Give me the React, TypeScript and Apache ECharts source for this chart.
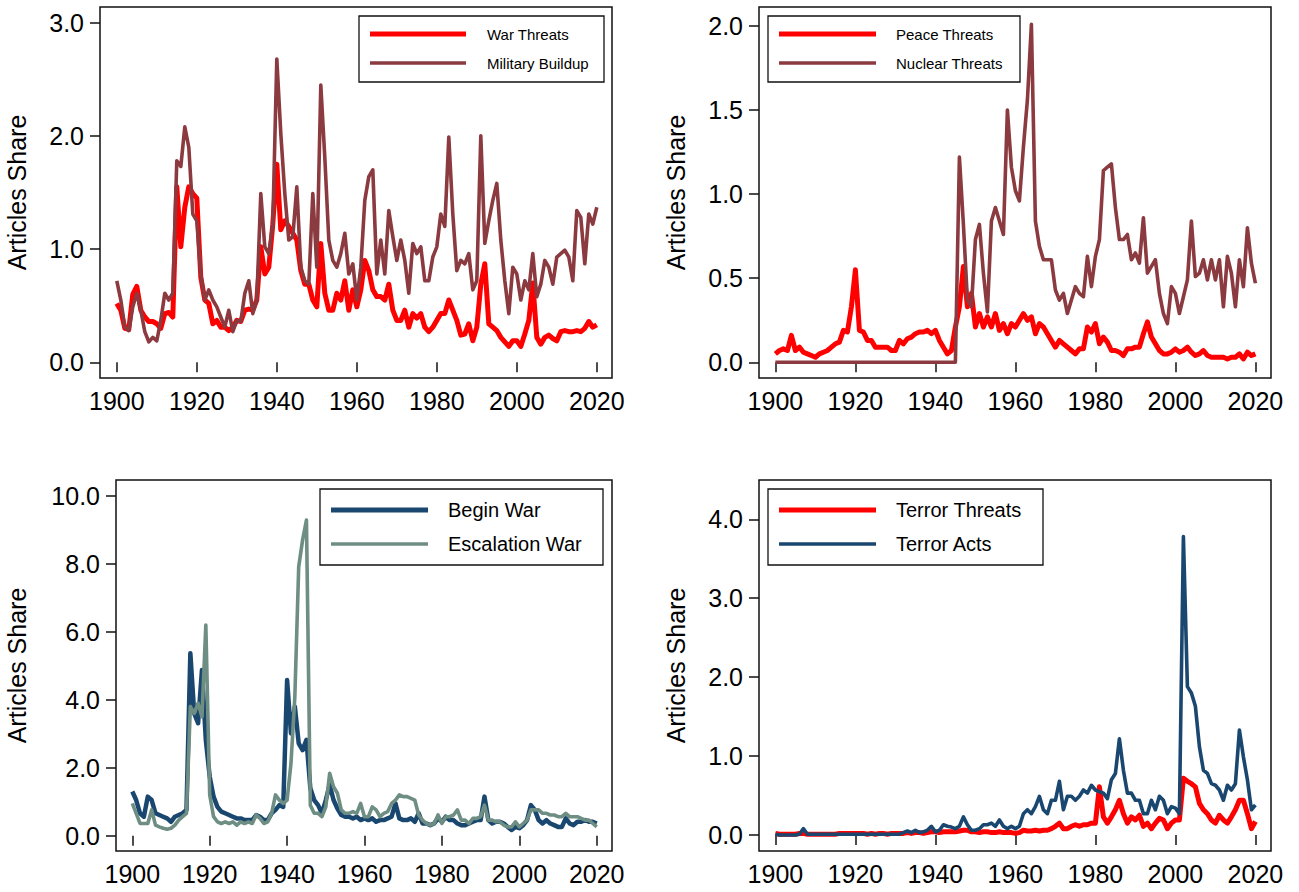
import React, { useEffect, useRef } from "react";
import * as echarts from "echarts";

const YEARS = [
  1900, 1901, 1902, 1903, 1904, 1905, 1906, 1907, 1908, 1909,
  1910, 1911, 1912, 1913, 1914, 1915, 1916, 1917, 1918, 1919,
  1920, 1921, 1922, 1923, 1924, 1925, 1926, 1927, 1928, 1929,
  1930, 1931, 1932, 1933, 1934, 1935, 1936, 1937, 1938, 1939,
  1940, 1941, 1942, 1943, 1944, 1945, 1946, 1947, 1948, 1949,
  1950, 1951, 1952, 1953, 1954, 1955, 1956, 1957, 1958, 1959,
  1960, 1961, 1962, 1963, 1964, 1965, 1966, 1967, 1968, 1969,
  1970, 1971, 1972, 1973, 1974, 1975, 1976, 1977, 1978, 1979,
  1980, 1981, 1982, 1983, 1984, 1985, 1986, 1987, 1988, 1989,
  1990, 1991, 1992, 1993, 1994, 1995, 1996, 1997, 1998, 1999,
  2000, 2001, 2002, 2003, 2004, 2005, 2006, 2007, 2008, 2009,
  2010, 2011, 2012, 2013, 2014, 2015, 2016, 2017, 2018, 2019,
  2020,
];

const X_TICKS = [1900, 1920, 1940, 1960, 1980, 2000, 2020];

const warThreats = [
  0.52, 0.46, 0.30, 0.29, 0.60, 0.67, 0.46, 0.40, 0.36, 0.36,
  0.34, 0.30, 0.43, 0.44, 0.40, 1.55, 1.02, 1.37, 1.55, 1.49,
  1.45, 0.75, 0.55, 0.52, 0.34, 0.37, 0.31, 0.31, 0.28, 0.31,
  0.37, 0.36, 0.46, 0.47, 0.46, 0.55, 1.02, 0.78, 0.84, 1.22,
  1.75, 1.17, 1.25, 1.20, 1.14, 1.08, 0.81, 0.69, 0.69, 0.55,
  0.49, 1.05, 0.61, 0.46, 0.46, 0.61, 0.55, 0.72, 0.46, 0.64,
  0.49, 0.64, 0.90, 0.81, 0.64, 0.58, 0.58, 0.55, 0.69, 0.46,
  0.37, 0.37, 0.46, 0.31, 0.43, 0.39, 0.43, 0.31, 0.27, 0.31,
  0.37, 0.43, 0.43, 0.55, 0.46, 0.37, 0.24, 0.25, 0.34, 0.19,
  0.31, 0.69, 0.87, 0.34, 0.31, 0.28, 0.22, 0.18, 0.14, 0.19,
  0.19, 0.14, 0.25, 0.37, 0.70, 0.22, 0.16, 0.22, 0.24, 0.21,
  0.19, 0.27, 0.28, 0.27, 0.27, 0.28, 0.27, 0.30, 0.36, 0.31,
  0.33,
];

const militaryBuildup = [
  0.72, 0.55, 0.31, 0.28, 0.49, 0.61, 0.46, 0.27, 0.18, 0.22,
  0.19, 0.37, 0.61, 0.55, 0.61, 1.78, 1.73, 2.08, 1.90, 1.31,
  1.25, 0.78, 0.55, 0.64, 0.55, 0.49, 0.40, 0.31, 0.46, 0.27,
  0.37, 0.36, 0.61, 0.72, 0.43, 0.55, 1.49, 1.02, 0.96, 1.22,
  2.68, 2.02, 1.49, 1.08, 1.11, 1.55, 0.84, 0.72, 0.69, 1.49,
  0.84, 2.45, 1.81, 1.08, 0.90, 0.84, 0.96, 1.14, 0.78, 0.87,
  0.55, 0.84, 1.43, 1.64, 1.70, 0.78, 1.08, 0.78, 1.34, 1.11,
  0.90, 1.08, 0.90, 0.61, 1.05, 0.96, 1.02, 0.72, 0.72, 0.93,
  1.02, 1.31, 1.20, 1.99, 1.31, 0.81, 0.90, 0.87, 0.96, 0.64,
  0.72, 2.00, 1.05, 1.25, 1.43, 1.58, 1.08, 0.72, 0.43, 0.84,
  0.78, 0.55, 0.72, 0.64, 0.96, 0.58, 0.69, 0.90, 0.84, 0.69,
  0.93, 0.96, 0.99, 0.93, 0.72, 1.34, 1.28, 0.87, 1.31, 1.22,
  1.37,
];

const peaceThreats = [
  0.05, 0.07, 0.08, 0.07, 0.16, 0.07, 0.09, 0.06, 0.05, 0.04,
  0.03, 0.05, 0.06, 0.07, 0.09, 0.11, 0.12, 0.19, 0.18, 0.33,
  0.55, 0.19, 0.18, 0.13, 0.13, 0.09, 0.09, 0.09, 0.09, 0.07,
  0.07, 0.13, 0.11, 0.14, 0.15, 0.17, 0.18, 0.18, 0.19, 0.17,
  0.19, 0.13, 0.09, 0.05, 0.07, 0.21, 0.33, 0.57, 0.33, 0.41,
  0.21, 0.29, 0.21, 0.27, 0.21, 0.29, 0.19, 0.23, 0.17, 0.23,
  0.21, 0.25, 0.29, 0.25, 0.27, 0.17, 0.23, 0.21, 0.17, 0.13,
  0.09, 0.13, 0.11, 0.09, 0.07, 0.05, 0.08, 0.08, 0.21, 0.18,
  0.23, 0.11, 0.15, 0.12, 0.07, 0.07, 0.06, 0.04, 0.08, 0.08,
  0.09, 0.09, 0.17, 0.24, 0.15, 0.11, 0.07, 0.05, 0.05, 0.06,
  0.08, 0.06, 0.07, 0.09, 0.06, 0.04, 0.05, 0.07, 0.04, 0.03,
  0.03, 0.03, 0.03, 0.02, 0.03, 0.03, 0.05, 0.02, 0.06, 0.04,
  0.05,
];

const nuclearThreats = [
  0, 0, 0, 0, 0, 0, 0, 0, 0, 0,
  0, 0, 0, 0, 0, 0, 0, 0, 0, 0,
  0, 0, 0, 0, 0, 0, 0, 0, 0, 0,
  0, 0, 0, 0, 0, 0, 0, 0, 0, 0,
  0, 0, 0, 0, 0, 0, 1.22, 0.82, 0.37, 0.33,
  0.73, 0.82, 0.53, 0.30, 0.84, 0.92, 0.84, 0.76, 1.50, 1.16,
  1.02, 0.96, 1.28, 1.56, 2.01, 0.84, 0.69, 0.61, 0.61, 0.61,
  0.43, 0.37, 0.41, 0.29, 0.37, 0.45, 0.41, 0.39, 0.63, 0.45,
  0.63, 0.73, 1.14, 1.16, 1.18, 0.92, 0.73, 0.73, 0.76, 0.61,
  0.65, 0.59, 0.86, 0.53, 0.57, 0.61, 0.41, 0.29, 0.23, 0.45,
  0.41, 0.29, 0.39, 0.49, 0.84, 0.51, 0.53, 0.61, 0.49, 0.61,
  0.49, 0.61, 0.33, 0.63, 0.53, 0.33, 0.61, 0.45, 0.80, 0.59,
  0.47,
];

const beginWar = [
  1.30, 1.05, 0.66, 0.56, 1.15, 1.05, 0.66, 0.61, 0.56, 0.51,
  0.41, 0.56, 0.61, 0.66, 0.76, 5.37, 3.60, 3.31, 4.88, 2.82,
  1.74, 1.15, 0.85, 0.71, 0.66, 0.61, 0.56, 0.51, 0.51, 0.46,
  0.46, 0.46, 0.61, 0.56, 0.46, 0.46, 0.66, 0.76, 0.90, 0.85,
  4.58, 3.01, 3.80, 2.72, 2.52, 2.82, 1.40, 1.05, 0.90, 0.66,
  1.05, 1.50, 1.05, 0.80, 0.61, 0.56, 0.56, 0.51, 0.56, 0.46,
  0.51, 0.46, 0.51, 0.41, 0.46, 0.46, 0.51, 0.56, 0.95, 0.51,
  0.46, 0.46, 0.51, 0.41, 0.66, 0.36, 0.36, 0.31, 0.36, 0.51,
  0.41, 0.56, 0.46, 0.46, 0.36, 0.31, 0.31, 0.36, 0.41, 0.46,
  0.46, 1.15, 0.46, 0.36, 0.41, 0.41, 0.36, 0.26, 0.17, 0.26,
  0.22, 0.31, 0.46, 0.90, 0.76, 0.46, 0.36, 0.46, 0.36, 0.31,
  0.26, 0.26, 0.51, 0.36, 0.31, 0.41, 0.41, 0.46, 0.41, 0.41,
  0.36,
];

const escalationWar = [
  0.95, 0.66, 0.36, 0.36, 0.36, 0.76, 0.31, 0.26, 0.22, 0.19,
  0.22, 0.31, 0.46, 0.56, 0.66, 3.80, 3.60, 3.90, 3.50, 6.20,
  1.20, 0.56, 0.41, 0.36, 0.41, 0.36, 0.41, 0.31, 0.41, 0.36,
  0.41, 0.36, 0.61, 0.51, 0.36, 0.41, 0.66, 1.20, 1.05, 0.95,
  1.05, 2.13, 4.09, 7.92, 8.70, 9.29, 0.90, 0.66, 0.66, 0.56,
  0.85, 1.84, 1.44, 1.25, 0.76, 0.66, 0.66, 0.71, 0.66, 0.95,
  0.56, 0.56, 0.85, 0.76, 0.56, 0.66, 0.71, 0.95, 1.05, 1.20,
  1.15, 1.15, 1.10, 1.05, 0.61, 0.46, 0.36, 0.31, 0.36, 0.61,
  0.36, 0.56, 0.56, 0.61, 0.76, 0.46, 0.46, 0.36, 0.51, 0.51,
  0.56, 0.90, 0.46, 0.46, 0.41, 0.41, 0.31, 0.26, 0.26, 0.41,
  0.26, 0.36, 0.46, 0.76, 0.76, 0.76, 0.66, 0.66, 0.61, 0.61,
  0.56, 0.56, 0.66, 0.56, 0.56, 0.56, 0.51, 0.46, 0.46, 0.36,
  0.26,
];

const terrorThreats = [
  0.02, 0.01, 0.01, 0.01, 0.01, 0.01, 0.02, 0.02, 0.01, 0.01,
  0.01, 0.01, 0.01, 0.01, 0.01, 0.01, 0.02, 0.02, 0.02, 0.02,
  0.02, 0.02, 0.02, 0.01, 0.02, 0.01, 0.02, 0.02, 0.01, 0.02,
  0.02, 0.02, 0.02, 0.03, 0.02, 0.03, 0.03, 0.02, 0.03, 0.04,
  0.04, 0.03, 0.04, 0.04, 0.04, 0.04, 0.05, 0.06, 0.06, 0.04,
  0.04, 0.03, 0.04, 0.04, 0.03, 0.03, 0.04, 0.03, 0.03, 0.03,
  0.02, 0.03, 0.06, 0.05, 0.05, 0.06, 0.05, 0.06, 0.06, 0.08,
  0.11, 0.15, 0.08, 0.08, 0.11, 0.13, 0.11, 0.13, 0.13, 0.15,
  0.15, 0.61, 0.23, 0.15, 0.23, 0.32, 0.44, 0.27, 0.15, 0.23,
  0.19, 0.25, 0.11, 0.15, 0.08, 0.15, 0.21, 0.19, 0.08, 0.15,
  0.19, 0.19, 0.72, 0.68, 0.65, 0.61, 0.40, 0.32, 0.27, 0.19,
  0.15, 0.25, 0.19, 0.15, 0.23, 0.32, 0.44, 0.44, 0.27, 0.08,
  0.17,
];

const terrorActs = [
  0.01, 0.00, 0.00, 0.00, 0.00, 0.00, 0.01, 0.08, 0.01, 0.01,
  0.01, 0.01, 0.01, 0.01, 0.01, 0.01, 0.01, 0.01, 0.01, 0.01,
  0.01, 0.01, 0.01, 0.01, 0.01, 0.01, 0.01, 0.01, 0.01, 0.01,
  0.01, 0.01, 0.03, 0.05, 0.03, 0.06, 0.03, 0.04, 0.06, 0.11,
  0.04, 0.06, 0.13, 0.11, 0.10, 0.08, 0.11, 0.23, 0.13, 0.06,
  0.06, 0.08, 0.13, 0.13, 0.15, 0.11, 0.19, 0.11, 0.08, 0.11,
  0.08, 0.11, 0.27, 0.32, 0.27, 0.36, 0.49, 0.32, 0.27, 0.44,
  0.44, 0.68, 0.32, 0.49, 0.49, 0.44, 0.49, 0.57, 0.53, 0.63,
  0.57, 0.55, 0.53, 0.46, 0.70, 0.78, 1.22, 0.82, 0.53, 0.53,
  0.44, 0.44, 0.27, 0.27, 0.44, 0.32, 0.49, 0.44, 0.27, 0.36,
  0.34, 0.27, 3.78, 1.88, 1.80, 1.63, 1.12, 0.82, 0.78, 0.65,
  0.63, 0.57, 0.44, 0.63, 0.57, 0.65, 1.33, 0.99, 0.70, 0.32,
  0.38,
];

const RED = "#ff0000";
const BROWN = "#8b3a3f";
const NAVY = "#1a476f";
const SAGE = "#6e8e84";
const FONT = "'Liberation Sans', Arial, Helvetica, sans-serif";
const INK = "#111111";

type Panel = {
  grid: { left: number; top: number; width: number; height: number };
  xMin: number;
  xMax: number;
  yMin: number;
  yMax: number;
  yTicks: number[];
  nameGap: number;
  series: { name: string; values: number[]; color: string; width: number }[];
  legend: {
    x: number;
    y: number;
    w: number;
    h: number;
    lineX1: number;
    lineX2: number;
    textX: number;
    rows: number[];
    fontSize: number;
    widths: number[];
  };
};

const PANELS: Panel[] = [
  {
    grid: { left: 100, top: 7, width: 512, height: 371 },
    xMin: 1895.8,
    xMax: 2023.8,
    yMin: -0.139,
    yMax: 3.139,
    yTicks: [0, 1, 2, 3],
    nameGap: 71,
    series: [
      { name: "War Threats", values: warThreats, color: RED, width: 5 },
      { name: "Military Buildup", values: militaryBuildup, color: BROWN, width: 3.6 },
    ],
    legend: { x: 359, y: 16, w: 245, h: 66, lineX1: 370, lineX2: 466, textX: 487, rows: [34, 63], fontSize: 15, widths: [5, 3.5] },
  },
  {
    grid: { left: 759, top: 7, width: 512, height: 371 },
    xMin: 1895.9,
    xMax: 2023.9,
    yMin: -0.0934,
    yMax: 2.113,
    yTicks: [0, 0.5, 1, 1.5, 2],
    nameGap: 71,
    series: [
      { name: "Peace Threats", values: peaceThreats, color: RED, width: 5 },
      { name: "Nuclear Threats", values: nuclearThreats, color: BROWN, width: 3.6 },
    ],
    legend: { x: 768, y: 16, w: 252, h: 66, lineX1: 779, lineX2: 876, textX: 896, rows: [34, 63], fontSize: 15, widths: [5, 3.5] },
  },
  {
    grid: { left: 116, top: 480, width: 496, height: 371 },
    xMin: 1895.79,
    xMax: 2023.95,
    yMin: -0.45,
    yMax: 10.47,
    yTicks: [0, 2, 4, 6, 8, 10],
    nameGap: 87,
    series: [
      { name: "Begin War", values: beginWar, color: NAVY, width: 4.5 },
      { name: "Escalation War", values: escalationWar, color: SAGE, width: 3.6 },
    ],
    legend: { x: 320, y: 489, w: 283, h: 76, lineX1: 331, lineX2: 428, textX: 448, rows: [510, 544], fontSize: 20, widths: [5, 3.5] },
  },
  {
    grid: { left: 759, top: 480, width: 512, height: 371 },
    xMin: 1895.9,
    xMax: 2023.9,
    yMin: -0.203,
    yMax: 4.498,
    yTicks: [0, 1, 2, 3, 4],
    nameGap: 71,
    series: [
      { name: "Terror Threats", values: terrorThreats, color: RED, width: 5 },
      { name: "Terror Acts", values: terrorActs, color: NAVY, width: 3.6 },
    ],
    legend: { x: 768, y: 489, w: 275, h: 76, lineX1: 779, lineX2: 876, textX: 896, rows: [510, 544], fontSize: 20, widths: [5, 3.5] },
  },
];

function buildOption() {
  const grid: any[] = [];
  const xAxis: any[] = [];
  const yAxis: any[] = [];
  const series: any[] = [];
  const graphic: any[] = [];

  PANELS.forEach((p, i) => {
    grid.push({
      ...p.grid,
      show: true,
      borderColor: INK,
      borderWidth: 1.5,
      backgroundColor: "transparent",
      containLabel: false,
    });
    xAxis.push({
      type: "value",
      gridIndex: i,
      min: p.xMin,
      max: p.xMax,
      axisLine: { show: false },
      splitLine: { show: false },
      axisTick: {
        show: true,
        inside: false,
        length: 10,
        customValues: X_TICKS,
        lineStyle: { color: INK, width: 1.5 },
      },
      axisLabel: {
        customValues: X_TICKS,
        fontSize: 25,
        fontFamily: FONT,
        color: "#000",
        margin: 10,
        formatter: (v: number) => String(Math.round(v)),
      },
    });
    yAxis.push({
      type: "value",
      gridIndex: i,
      min: p.yMin,
      max: p.yMax,
      name: "Articles Share",
      nameLocation: "middle",
      nameGap: p.nameGap,
      nameTextStyle: { fontSize: 25, fontFamily: FONT, color: "#000" },
      axisLine: { show: false },
      splitLine: { show: false },
      axisTick: {
        show: true,
        inside: false,
        length: 10,
        customValues: p.yTicks,
        lineStyle: { color: INK, width: 1.5 },
      },
      axisLabel: {
        customValues: p.yTicks,
        fontSize: 25,
        fontFamily: FONT,
        color: "#000",
        margin: 16,
        formatter: (v: number) => v.toFixed(1),
      },
    });
    p.series.forEach((s) => {
      series.push({
        type: "line",
        name: s.name,
        xAxisIndex: i,
        yAxisIndex: i,
        data: YEARS.map((yr, k) => [yr, s.values[k]]),
        showSymbol: false,
        symbol: "none",
        smooth: false,
        lineStyle: { color: s.color, width: s.width, join: "round" },
        itemStyle: { color: s.color },
      });
    });

    const L = p.legend;
    graphic.push({
      type: "rect",
      z: 100,
      shape: { x: L.x, y: L.y, width: L.w, height: L.h },
      style: { fill: "#fff", stroke: INK, lineWidth: 1.3 },
    });
    p.series.forEach((s, k) => {
      graphic.push({
        type: "line",
        z: 101,
        shape: { x1: L.lineX1, y1: L.rows[k], x2: L.lineX2, y2: L.rows[k] },
        style: { stroke: s.color, lineWidth: L.widths[k] },
      });
      graphic.push({
        type: "text",
        z: 101,
        x: L.textX,
        y: L.rows[k],
        style: {
          text: s.name,
          fontSize: L.fontSize,
          fontFamily: FONT,
          fill: "#000",
          align: "left",
          verticalAlign: "middle",
        },
      });
    });
  });

  return {
    animation: false,
    backgroundColor: "#ffffff",
    grid,
    xAxis,
    yAxis,
    series,
    graphic,
  };
}

export default function App() {
  const ref = useRef<HTMLDivElement>(null);
  useEffect(() => {
    if (!ref.current) return;
    const chart = echarts.init(ref.current, undefined, { renderer: "svg" });
    chart.setOption(buildOption() as any);
    return () => {
      chart.dispose();
    };
  }, []);
  return (
    <div
      ref={ref}
      style={{ position: "absolute", left: 0, top: 0, width: 1299, height: 892, background: "#fff" }}
    />
  );
}
